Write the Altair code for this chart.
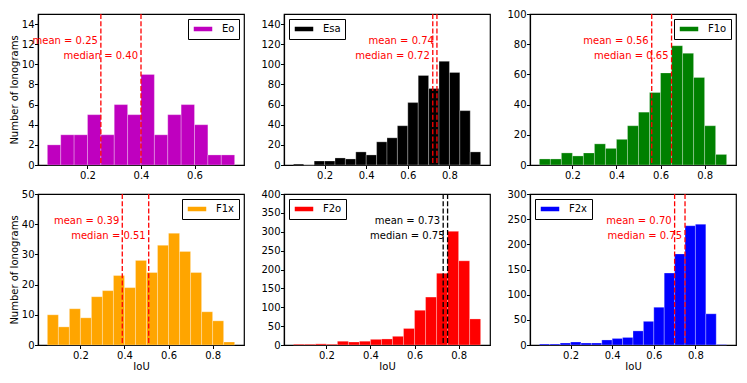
import altair as alt
import pandas as pd

# ---- data ----
NAMES = ["Eo", "Esa", "F1o", "F1x", "F2o", "F2x"]
BAR_COLORS = ["#bf00bf", "#000000", "#008000", "#ffa500", "#ff0000", "#0000ff"]
LINE_COLORS = ["#ff0000", "#ff0000", "#ff0000", "#ff0000", "#000000", "#ff0000"]

BIN_START = 0.05
BIN_WIDTH = 0.05

COUNTS_EO = [2, 3, 3, 5, 3, 6, 5, 9, 3, 5, 6, 4, 1, 1]
COUNTS_ESA = [1, 0, 4, 4, 7, 6, 13, 10, 23, 27, 39, 62, 89, 76, 103, 92, 54, 13]
COUNTS_F1O = [4, 4, 8, 6, 8, 14, 11, 17, 26, 35, 48, 61, 79, 74, 58, 26, 7]
COUNTS_F1X = [10, 6, 12, 9, 16, 18, 23, 19, 28, 24, 33, 37, 31, 24, 11, 8, 1]
COUNTS_F2O = [2, 2, 3, 2, 10, 8, 10, 15, 16, 23, 44, 92, 127, 190, 301, 223, 69]
COUNTS_F2X = [2, 2, 4, 6, 4, 4, 10, 13, 15, 28, 47, 75, 143, 181, 237, 240, 62, 1]
COUNTS = [COUNTS_EO, COUNTS_ESA, COUNTS_F1O, COUNTS_F1X, COUNTS_F2O, COUNTS_F2X]

MEANS = [0.25, 0.74, 0.56, 0.39, 0.73, 0.70]
MEDIANS = [0.40, 0.72, 0.65, 0.51, 0.75, 0.75]

Y_MAX = [15, 150, 100, 50, 400, 300]
Y_STEP = [2, 20, 20, 10, 50, 50]
X_TICKS = [
    [0.2, 0.4, 0.6],
    [0.2, 0.4, 0.6, 0.8],
    [0.2, 0.4, 0.6, 0.8],
    [0.2, 0.4, 0.6, 0.8],
    [0.2, 0.4, 0.6, 0.8],
    [0.2, 0.4, 0.6, 0.8],
]
LEGEND_ORIENT = ["top-right", "top-left", "top-right", "top-right", "top-left", "top-left"]

X_TITLE = "IoU"
Y_TITLE = "Number of Ionograms"
MEAN_TEXT_FRAC = 0.8
MEDIAN_TEXT_FRAC = 0.7

W = 206
H = 151
FONT = "DejaVu Sans"


def panel(i, show_ytitle, show_xtitle):
    counts = COUNTS[i]
    n = len(counts)
    left = [round(BIN_START + k * BIN_WIDTH, 4) for k in range(n)]
    right = [round(BIN_START + (k + 1) * BIN_WIDTH, 4) for k in range(n)]
    lo, hi = left[0], right[-1]
    margin = 0.05 * (hi - lo)
    xs = alt.Scale(domain=[lo - margin, hi + margin], nice=False, zero=False)
    ys = alt.Scale(domain=[0, Y_MAX[i]], nice=False, zero=True)
    yvals = list(range(0, Y_MAX[i] + 1, Y_STEP[i]))

    xaxis = alt.Axis(values=X_TICKS[i], format=".1f",
                     title=X_TITLE if show_xtitle else None)
    yaxis = alt.Axis(values=yvals, format="d",
                     title=Y_TITLE if show_ytitle else None)

    field = "series_" + NAMES[i]
    df = pd.DataFrame({"x0": left, "x1": right, "count": counts,
                       field: [NAMES[i]] * n})
    bars = alt.Chart(df).mark_rect(
        stroke="white", strokeWidth=0.5, strokeOpacity=0.55
    ).encode(
        x=alt.X("x0:Q", scale=xs, axis=xaxis),
        x2="x1:Q",
        y=alt.Y("count:Q", scale=ys, axis=yaxis),
        y2=alt.datum(0),
        fill=alt.Fill(
            field + ":N",
            scale=alt.Scale(domain=[NAMES[i]], range=[BAR_COLORS[i]]),
            legend=alt.Legend(
                title=None,
                orient=LEGEND_ORIENT[i],
                offset=5,
                padding=4,
                strokeColor="black",
                fillColor="white",
                cornerRadius=0,
                symbolType="M-1,-0.6H3V0.6H-1Z",
                symbolSize=100,
                labelOffset=18,
                labelFont=FONT,
                labelFontSize=10,
                labelColor="black",
            ),
        ),
    )

    stats = pd.DataFrame({
        "v": [MEANS[i], MEDIANS[i]],
        "label": [f"mean = {MEANS[i]:.2f}", f"median = {MEDIANS[i]:.2f}"],
        "ty": [MEAN_TEXT_FRAC * Y_MAX[i], MEDIAN_TEXT_FRAC * Y_MAX[i]],
    })
    rules = alt.Chart(stats).mark_rule(
        color=LINE_COLORS[i], strokeDash=[5, 2.2], strokeWidth=1.3
    ).encode(x=alt.X("v:Q", scale=xs, axis=xaxis))
    texts = alt.Chart(stats).mark_text(
        align="right", baseline="alphabetic", dx=-3,
        color=LINE_COLORS[i], font=FONT, fontSize=10
    ).encode(
        x=alt.X("v:Q", scale=xs, axis=xaxis),
        y=alt.Y("ty:Q", scale=ys, axis=yaxis),
        text="label:N",
    )
    return alt.layer(bars, rules, texts).properties(width=W, height=H)


panels = [
    panel(0, True, False), panel(1, False, False), panel(2, False, False),
    panel(3, True, True), panel(4, False, True), panel(5, False, True),
]

chart = alt.concat(
    *panels, columns=3, spacing={"row": 29, "column": 40}, bounds="flush"
).resolve_scale(
    fill="independent", color="independent", x="independent", y="independent"
).resolve_legend(
    fill="independent"
).properties(
    padding={"left": 0, "top": 0, "right": 0, "bottom": 0}
).configure(
    font=FONT
).configure_view(
    stroke="black", strokeWidth=1.2
).configure_axis(
    grid=False,
    domainColor="black",
    domainWidth=1.2,
    tickColor="black",
    tickWidth=1,
    tickSize=3.5,
    labelColor="black",
    labelFont=FONT,
    labelFontSize=10,
    titleFont=FONT,
    titleFontSize=10,
    titleFontWeight="normal",
    titleColor="black",
).configure_axisX(
    labelPadding=2, titlePadding=1
).configure_axisY(
    labelPadding=0.5, titlePadding=2
)

chart.save("out.html", embed_options={"renderer": "svg", "actions": False})
